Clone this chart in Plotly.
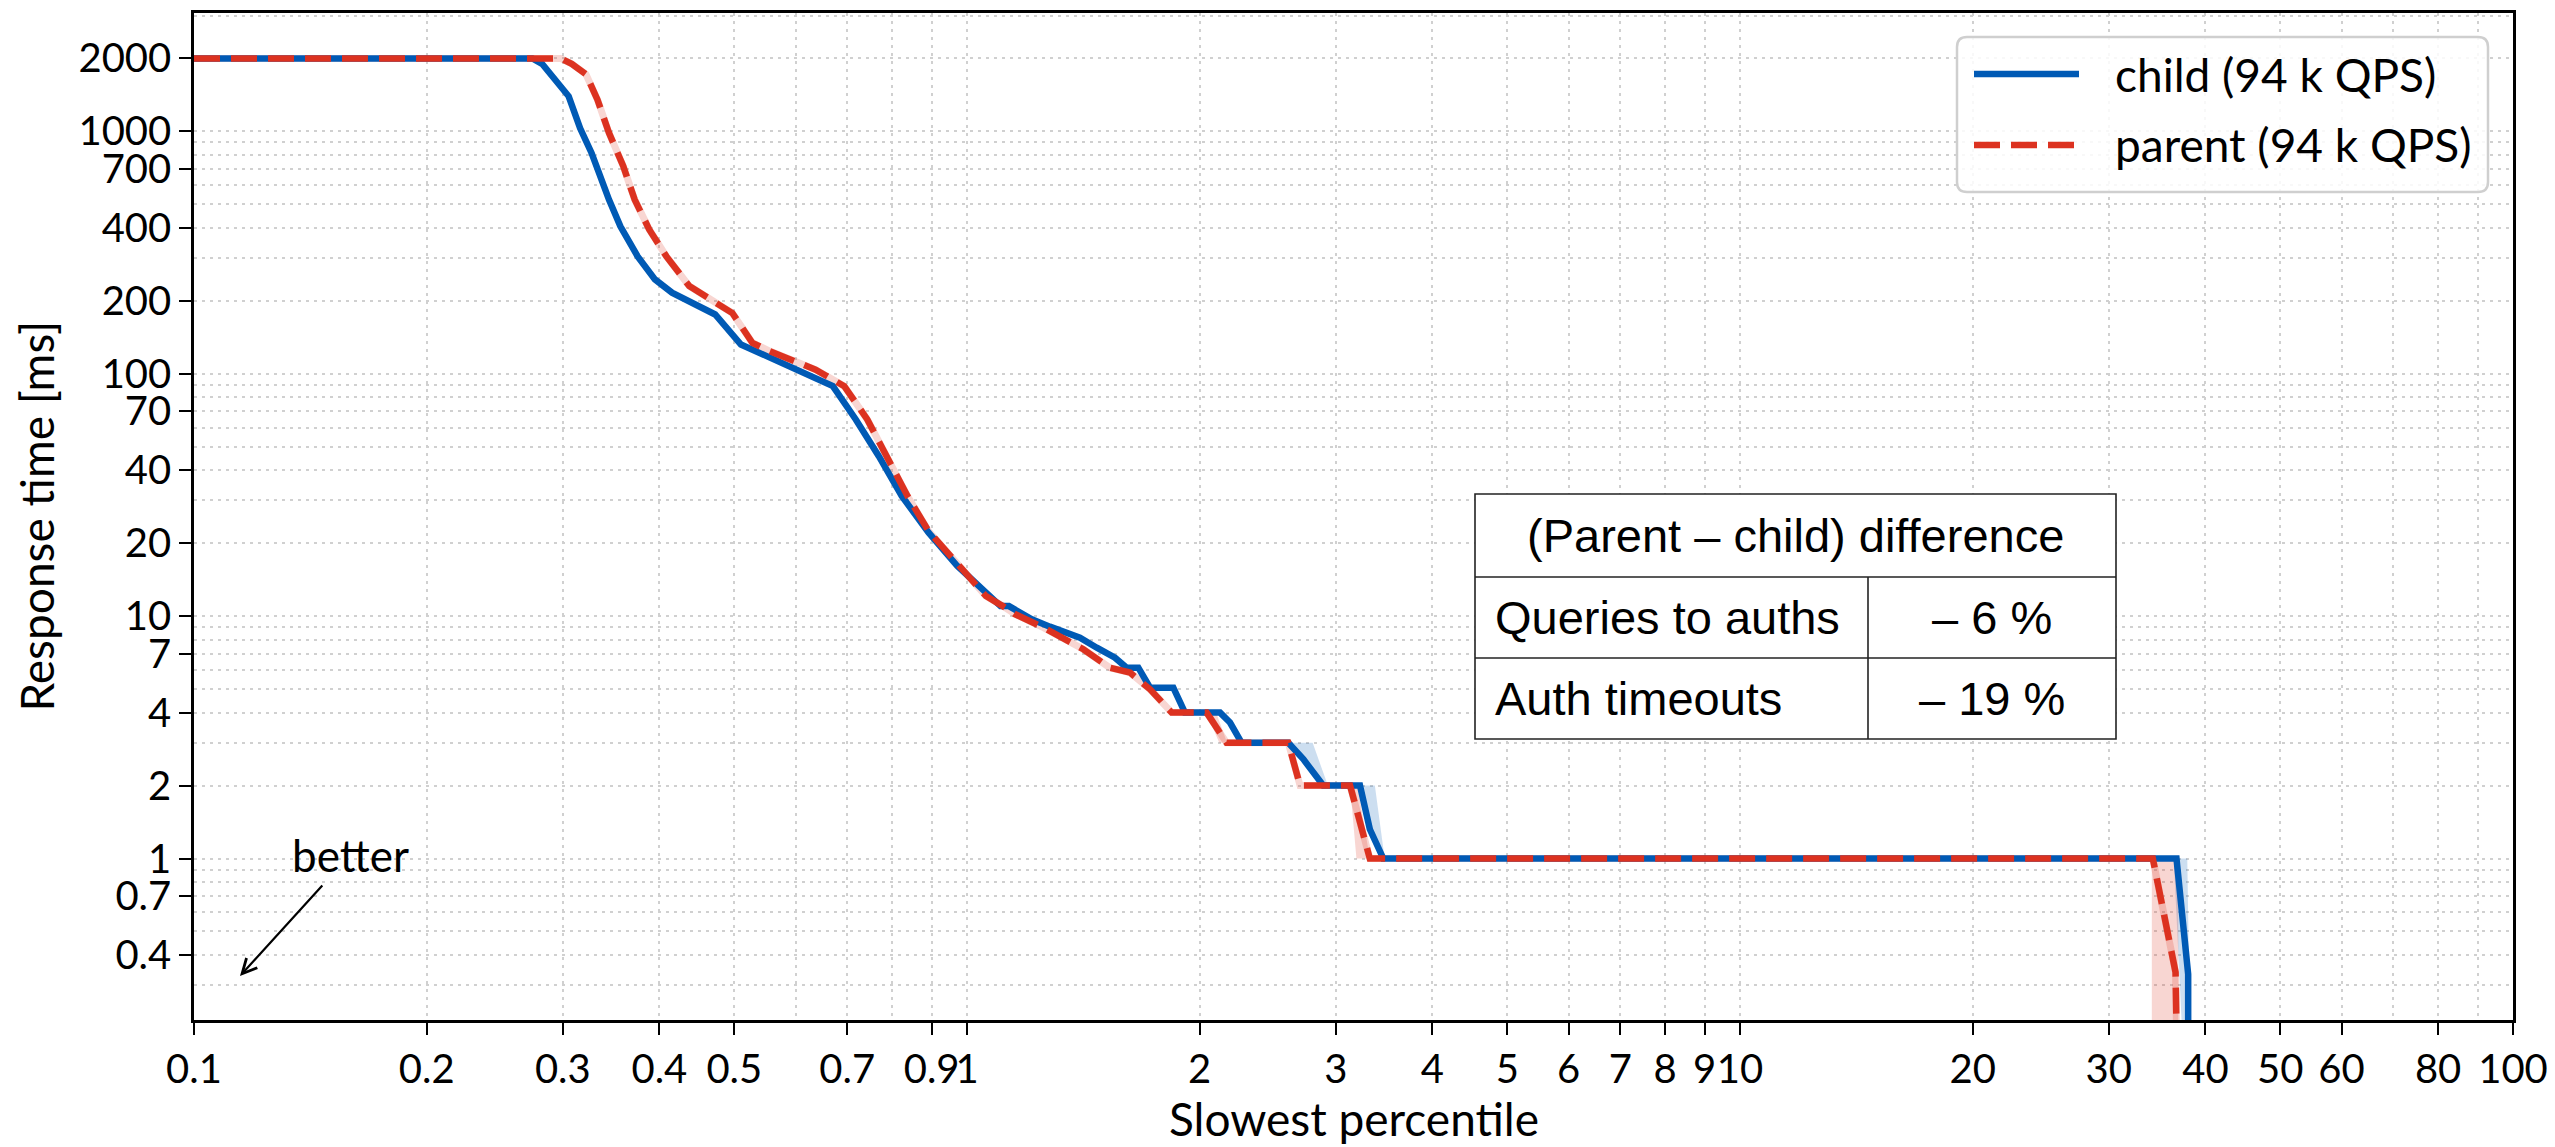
import plotly.graph_objects as go

# ---------------- data ----------------
child_p = [0.1, 0.274, 0.282, 0.290, 0.2955, 0.3053, 0.3159, 0.3268, 0.3442, 0.3561,
           0.3749, 0.3947, 0.4153, 0.4524, 0.4723, 0.510, 0.5848, 0.6706, 0.718, 0.769,
           0.8233, 0.892, 0.9716, 1.040, 1.105, 1.133, 1.213, 1.280, 1.400, 1.472,
           1.554, 1.609, 1.666, 1.725, 1.849, 1.914, 2.125, 2.189, 2.266, 2.604,
           2.723, 2.890, 3.224, 3.32, 3.456, 36.7, 38.0, 38.0]
child_ms = [2000, 2000, 1900, 1700, 1585, 1395, 1030, 815, 523, 406,
            305, 245, 216, 190, 175.6, 132, 109.2, 88.9, 64.8, 45.7,
            31.3, 22.1, 16.1, 13.3, 11.0, 11.0, 9.70, 9.05, 8.15, 7.41,
            6.74, 6.13, 6.13, 5.07, 5.07, 4.0, 4.0, 3.64, 3.0, 3.0,
            2.57, 2.0, 2.0, 1.32, 1.0, 1.0, 0.333, 0.2]

parent_p = [0.1, 0.298, 0.308, 0.3214, 0.3326, 0.3442, 0.3592, 0.3716, 0.388, 0.4084,
            0.4372, 0.4683, 0.4971, 0.5278, 0.5556, 0.6369, 0.6937, 0.743, 0.7958, 0.8375,
            0.892, 0.9716, 1.058, 1.123, 1.153, 1.256, 1.28, 1.414, 1.530, 1.625,
            1.725, 1.795, 1.840, 2.042, 2.167, 2.604, 2.697, 3.130, 3.32, 34.2,
            35.0, 35.8, 36.6, 36.7]
parent_ms = [2000, 2000, 1900, 1720, 1352, 986, 718, 523, 394, 305,
             230, 199, 178, 134, 124, 104, 88.9, 64.8, 43.0, 31.3,
             22.4, 16.3, 12.1, 10.8, 10.2, 8.97, 8.68, 7.3, 6.13, 5.85,
             4.99, 4.40, 4.0, 4.0, 3.0, 3.0, 2.0, 2.0, 1.0, 1.0,
             0.70, 0.465, 0.339, 0.2]

# uncertainty bands (closed polygons, separated by None)
child_band_p = [2.62, 2.80, 2.93, 2.89, 2.72, None, 3.22, 3.37, 3.47, 3.44, 3.32, None,
                36.4, 37.9, 38.1, 38.1, 37.3]
child_band_ms = [3, 3, 2, 2, 2.57, None, 2, 2, 1, 1, 1.32, None,
                 1, 1, 0.333, 0.2, 0.2]
parent_band_p = [2.04, 2.10, 2.17, 2.12, None, 3.13, 3.20, 3.32, 3.19, None,
                 34.1, 36.9, 36.9, 34.1]
parent_band_ms = [4, 4, 3, 3, None, 2, 2, 1, 1, None,
                  1, 1, 0.2, 0.2]

series_names = ["child (94 k QPS)", "parent (94 k QPS)"]

x_tick_vals = [0.1, 0.2, 0.3, 0.4, 0.5, 0.7, 0.9, 1, 2, 3, 4, 5, 6, 7, 8, 9, 10,
               20, 30, 40, 50, 60, 80, 100]
x_tick_text = ["0.1", "0.2", "0.3", "0.4", "0.5", "0.7", "0.9", "1", "2", "3", "4", "5",
               "6", "7", "8", "9", "10", "20", "30", "40", "50", "60", "80", "100"]
x_minor_vals = [0.6, 0.8, 70, 90]

y_tick_vals = [0.4, 0.7, 1, 2, 4, 7, 10, 20, 40, 70, 100, 200, 400, 700, 1000, 2000]
y_tick_text = ["0.4", "0.7", "1", "2", "4", "7", "10", "20", "40", "70", "100", "200",
               "400", "700", "1000", "2000"]
y_minor_vals = [0.3, 0.5, 0.6, 0.8, 0.9, 3, 5, 6, 8, 9, 30, 50, 60, 80, 90,
                300, 500, 600, 800, 900, 3000]

x_title = "Slowest percentile"
y_title = "Response time [ms]"
table_header = "(Parent \u2013 child) difference"
table_labels = ["Queries to auths", "Auth timeouts"]
table_values = ["\u2013 6 %", "\u2013 19 %"]

# ---------------- style ----------------
BLUE = "#005AB5"
RED = "#DC3220"
FONT = "Lato"
TFONT = "Liberation Sans"

W, H = 2555, 1147
PL, PR, PT, PB = 194, 2513, 13, 1020


def px(x):
    return (x - PL) / (PR - PL)


def py(y):
    return (PB - y) / (PB - PT)


fig = go.Figure()

fig.add_trace(go.Scatter(x=child_band_p, y=child_band_ms, mode="lines", fill="toself",
                         fillcolor="rgba(0,90,181,0.2)", line=dict(width=0),
                         hoverinfo="skip", showlegend=False))
fig.add_trace(go.Scatter(x=parent_band_p, y=parent_band_ms, mode="lines", fill="toself",
                         fillcolor="rgba(220,50,32,0.2)", line=dict(width=0),
                         hoverinfo="skip", showlegend=False))
# faint band along the parent curve
fig.add_trace(go.Scatter(x=parent_p, y=parent_ms, mode="lines",
                         line=dict(color="rgba(220,50,32,0.2)", width=7),
                         hoverinfo="skip", showlegend=False))
fig.add_trace(go.Scatter(x=child_p, y=child_ms, mode="lines", name=series_names[0],
                         line=dict(color=BLUE, width=6.5), showlegend=False))
fig.add_trace(go.Scatter(x=parent_p, y=parent_ms, mode="lines", name=series_names[1],
                         line=dict(color=RED, width=6.5, dash="26px,11px"),
                         showlegend=False))

grid = dict(showgrid=True, gridcolor="#d0d0d0", gridwidth=2, griddash="3px,5px")
axis_common = dict(
    ticks="outside", ticklen=12, tickwidth=2, tickcolor="black",
    showline=True, linewidth=2.5, linecolor="black", mirror=True, zeroline=False,
    tickfont=dict(family=FONT, size=40, color="black"), tickangle=0, automargin=False,
    **grid,
)

fig.update_xaxes(type="log", range=[-1, 2], tickmode="array", tickvals=x_tick_vals,
                 ticktext=x_tick_text,
                 minor=dict(tickvals=x_minor_vals, ticks="", **grid),
                 **axis_common)
fig.update_yaxes(type="log", range=[-0.6662, 3.4883], tickmode="array", tickvals=y_tick_vals,
                 ticktext=y_tick_text,
                 minor=dict(tickvals=y_minor_vals, ticks="", **grid),
                 **axis_common)

shapes = []
annotations = []

# ---- axis titles ----
afont = dict(family=FONT, size=46, color="black")
annotations.append(dict(xref="paper", yref="paper", x=0.5, y=py(1118), text=x_title,
                        showarrow=False, font=afont, xanchor="center", yanchor="middle"))
annotations.append(dict(xref="paper", yref="paper", x=px(36), y=0.5, text=y_title,
                        showarrow=False, font=afont, textangle=-90,
                        xanchor="center", yanchor="middle"))

# ---- table ----
tx0, tx1, txm = px(1475), px(2116), px(1868)
ty = [py(494), py(577), py(658), py(739)]
tline = dict(color="#222222", width=1.6)
shapes.append(dict(type="rect", xref="paper", yref="paper", x0=tx0, x1=tx1, y0=ty[3], y1=ty[0],
                   fillcolor="white", line=tline, layer="above"))
shapes.append(dict(type="line", xref="paper", yref="paper", x0=tx0, x1=tx1, y0=ty[1], y1=ty[1],
                   line=tline, layer="above"))
shapes.append(dict(type="line", xref="paper", yref="paper", x0=tx0, x1=tx1, y0=ty[2], y1=ty[2],
                   line=tline, layer="above"))
shapes.append(dict(type="line", xref="paper", yref="paper", x0=txm, x1=txm, y0=ty[3], y1=ty[1],
                   line=tline, layer="above"))
tfont = dict(family=TFONT, size=47, color="black")
annotations.append(dict(xref="paper", yref="paper", x=(tx0 + tx1) / 2, y=(ty[0] + ty[1]) / 2,
                        text=table_header, showarrow=False, font=tfont,
                        xanchor="center", yanchor="middle"))
for i, (lab, val) in enumerate(zip(table_labels, table_values)):
    yc = (ty[i + 1] + ty[i + 2]) / 2
    annotations.append(dict(xref="paper", yref="paper", x=px(1493), y=yc, text=lab,
                            showarrow=False, font=tfont, xanchor="left", yanchor="middle"))
    annotations.append(dict(xref="paper", yref="paper", x=(txm + tx1) / 2, y=yc, text=val,
                            showarrow=False, font=tfont, xanchor="center", yanchor="middle"))

# ---- legend (drawn to match the original's long line samples) ----
lx0, lx1, ly1, ly0 = px(1957), px(2488), py(37), py(192)
rx, ry = 10 / (PR - PL), 10 / (PB - PT)
path = (f"M{lx0 + rx},{ly1} L{lx1 - rx},{ly1} Q{lx1},{ly1} {lx1},{ly1 - ry} "
        f"L{lx1},{ly0 + ry} Q{lx1},{ly0} {lx1 - rx},{ly0} L{lx0 + rx},{ly0} "
        f"Q{lx0},{ly0} {lx0},{ly0 + ry} L{lx0},{ly1 - ry} Q{lx0},{ly1} {lx0 + rx},{ly1} Z")
shapes.append(dict(type="path", xref="paper", yref="paper", path=path,
                   fillcolor="rgba(255,255,255,0.85)",
                   line=dict(color="#cfcfcf", width=2.5), layer="above"))
leg_rows = [(py(74), BLUE, "solid"), (py(145), RED, "26px,11px")]
for (yy, col, dash), name in zip(leg_rows, series_names):
    shapes.append(dict(type="line", xref="paper", yref="paper", x0=px(1974), x1=px(2079),
                       y0=yy, y1=yy, line=dict(color=col, width=6.5, dash=dash), layer="above"))
    annotations.append(dict(xref="paper", yref="paper", x=px(2113), y=yy, text=name,
                            showarrow=False, xanchor="left", yanchor="middle",
                            font=dict(family=FONT, size=46, color="black")))

# ---- "better" arrow ----
annotations.append(dict(xref="paper", yref="paper", x=px(240), y=py(976), ax=110, ay=-121,
                        axref="pixel", ayref="pixel", text="better", showarrow=True,
                        arrowhead=5, arrowsize=1.3, arrowwidth=2.2, arrowcolor="black",
                        startstandoff=4, font=dict(family=FONT, size=44, color="black")))

fig.update_layout(
    width=W, height=H,
    margin=dict(l=PL, r=W - PR, t=PT, b=H - PB),
    paper_bgcolor="white", plot_bgcolor="white",
    shapes=shapes, annotations=annotations,
    showlegend=False,
    font=dict(family=FONT, color="black"),
)

fig.write_html("out.html")
